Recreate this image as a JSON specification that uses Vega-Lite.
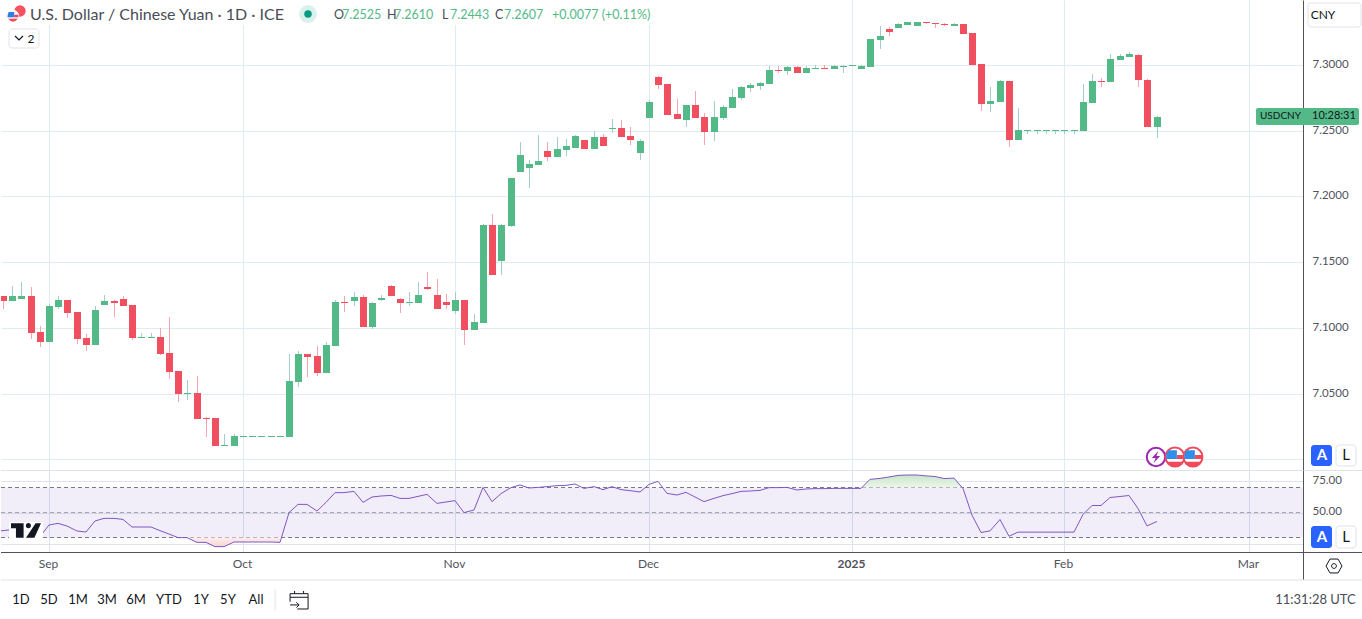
{"$schema":"https://vega.github.io/schema/vega-lite/v6.json","padding":0,"background":"#ffffff","spacing":0,"bounds":"flush","config":{"view":{"stroke":null},"font":"Lato","concat":{"spacing":0}},
"datasets":{
"candles":[
{"bar":-5,"o":7.1243,"h":7.1243,"l":7.1144,"c":7.1205},{"bar":-4,"o":7.1205,"h":7.1319,"l":7.1205,"c":7.1243},{"bar":-3,"o":7.122,"h":7.1349,"l":7.122,"c":7.1243},{"bar":-2,"o":7.1243,"h":7.1311,"l":7.0916,"c":7.0961},{"bar":-1,"o":7.0969,"h":7.1014,"l":7.0855,"c":7.0893},{"bar":0,"o":7.0893,"h":7.1182,"l":7.0893,"c":7.1167},{"bar":1,"o":7.1159,"h":7.1243,"l":7.1144,"c":7.1212},{"bar":2,"o":7.1212,"h":7.1212,"l":7.1075,"c":7.1113},{"bar":3,"o":7.1121,"h":7.1121,"l":7.0877,"c":7.0916},{"bar":4,"o":7.0923,"h":7.0954,"l":7.0824,"c":7.087},{"bar":5,"o":7.087,"h":7.1167,"l":7.087,"c":7.1136},{"bar":6,"o":7.1174,"h":7.125,"l":7.1174,"c":7.1205},{"bar":7,"o":7.1205,"h":7.1212,"l":7.1083,"c":7.1189},{"bar":8,"o":7.122,"h":7.1243,"l":7.1167,"c":7.1167},{"bar":9,"o":7.1174,"h":7.1174,"l":7.0908,"c":7.0923},{"bar":10,"o":7.0923,"h":7.0961,"l":7.0923,"c":7.0931},{"bar":11,"o":7.0923,"h":7.0961,"l":7.0923,"c":7.0931},{"bar":12,"o":7.0931,"h":7.0999,"l":7.0794,"c":7.0801},{"bar":13,"o":7.0809,"h":7.1083,"l":7.0611,"c":7.0664},{"bar":14,"o":7.0672,"h":7.0672,"l":7.0436,"c":7.0497},{"bar":15,"o":7.0497,"h":7.0604,"l":7.0451,"c":7.0505},{"bar":16,"o":7.0505,"h":7.0634,"l":7.0307,"c":7.0307},{"bar":17,"o":7.0314,"h":7.0322,"l":7.017,"c":7.0307},{"bar":18,"o":7.0314,"h":7.0314,"l":7.0101,"c":7.0101},{"bar":19,"o":7.0101,"h":7.0193,"l":7.0101,"c":7.0109},{"bar":20,"o":7.0101,"h":7.0193,"l":7.0101,"c":7.0177},{"bar":21,"o":7.017,"h":7.0177,"l":7.017,"c":7.0177},{"bar":22,"o":7.017,"h":7.0177,"l":7.017,"c":7.0177},{"bar":23,"o":7.017,"h":7.0177,"l":7.017,"c":7.0177},{"bar":24,"o":7.017,"h":7.0177,"l":7.017,"c":7.0177},{"bar":25,"o":7.017,"h":7.0177,"l":7.017,"c":7.0177},{"bar":26,"o":7.017,"h":7.0801,"l":7.017,"c":7.0596},{"bar":27,"o":7.0588,"h":7.0824,"l":7.055,"c":7.0801},{"bar":28,"o":7.0801,"h":7.0801,"l":7.0626,"c":7.0779},{"bar":29,"o":7.0786,"h":7.0862,"l":7.0634,"c":7.0657},{"bar":30,"o":7.0657,"h":7.0893,"l":7.0657,"c":7.087},{"bar":31,"o":7.0862,"h":7.1212,"l":7.0862,"c":7.1197},{"bar":32,"o":7.1197,"h":7.1243,"l":7.1121,"c":7.1189},{"bar":33,"o":7.1205,"h":7.1273,"l":7.1167,"c":7.1235},{"bar":34,"o":7.1235,"h":7.125,"l":7.1007,"c":7.1007},{"bar":35,"o":7.1007,"h":7.1197,"l":7.0992,"c":7.1189},{"bar":36,"o":7.1212,"h":7.125,"l":7.1205,"c":7.1228},{"bar":37,"o":7.1319,"h":7.1326,"l":7.1243,"c":7.1243},{"bar":38,"o":7.122,"h":7.1228,"l":7.1113,"c":7.1189},{"bar":39,"o":7.1189,"h":7.1273,"l":7.1167,"c":7.1197},{"bar":40,"o":7.1189,"h":7.1349,"l":7.1189,"c":7.125},{"bar":41,"o":7.1311,"h":7.1425,"l":7.1288,"c":7.1296},{"bar":42,"o":7.125,"h":7.1372,"l":7.1144,"c":7.1144},{"bar":43,"o":7.1197,"h":7.1258,"l":7.1144,"c":7.1174},{"bar":44,"o":7.1129,"h":7.1273,"l":7.1106,"c":7.1212},{"bar":45,"o":7.1212,"h":7.1212,"l":7.087,"c":7.0984},{"bar":46,"o":7.0984,"h":7.1106,"l":7.0984,"c":7.1045},{"bar":47,"o":7.1037,"h":7.1791,"l":7.1037,"c":7.1783},{"bar":48,"o":7.1783,"h":7.1867,"l":7.1403,"c":7.1403},{"bar":49,"o":7.1509,"h":7.1791,"l":7.1403,"c":7.1783},{"bar":50,"o":7.1775,"h":7.2141,"l":7.1768,"c":7.2141},{"bar":51,"o":7.2186,"h":7.2415,"l":7.2186,"c":7.2316},{"bar":52,"o":7.2217,"h":7.2278,"l":7.2064,"c":7.2247},{"bar":53,"o":7.224,"h":7.2468,"l":7.224,"c":7.227},{"bar":54,"o":7.2346,"h":7.2415,"l":7.227,"c":7.23},{"bar":55,"o":7.23,"h":7.2453,"l":7.23,"c":7.2361},{"bar":56,"o":7.2354,"h":7.2437,"l":7.2308,"c":7.2384},{"bar":57,"o":7.2369,"h":7.2468,"l":7.2369,"c":7.246},{"bar":58,"o":7.243,"h":7.243,"l":7.2361,"c":7.2361},{"bar":59,"o":7.2361,"h":7.2498,"l":7.2361,"c":7.2453},{"bar":60,"o":7.2453,"h":7.2475,"l":7.2384,"c":7.2384},{"bar":61,"o":7.2513,"h":7.259,"l":7.2483,"c":7.2521},{"bar":62,"o":7.2521,"h":7.2582,"l":7.2453,"c":7.2453},{"bar":63,"o":7.246,"h":7.2529,"l":7.2392,"c":7.243},{"bar":64,"o":7.2331,"h":7.2437,"l":7.2278,"c":7.2422},{"bar":65,"o":7.2597,"h":7.2734,"l":7.2597,"c":7.2719},{"bar":66,"o":7.2909,"h":7.2917,"l":7.2818,"c":7.2848},{"bar":67,"o":7.2856,"h":7.2856,"l":7.262,"c":7.262},{"bar":68,"o":7.2628,"h":7.2742,"l":7.259,"c":7.259},{"bar":69,"o":7.2582,"h":7.2696,"l":7.2529,"c":7.2696},{"bar":70,"o":7.2696,"h":7.2803,"l":7.2597,"c":7.2597},{"bar":71,"o":7.2605,"h":7.2635,"l":7.2392,"c":7.2491},{"bar":72,"o":7.2491,"h":7.2726,"l":7.2422,"c":7.2605},{"bar":73,"o":7.2597,"h":7.2696,"l":7.2582,"c":7.2681},{"bar":74,"o":7.2673,"h":7.2818,"l":7.2673,"c":7.2757},{"bar":75,"o":7.2749,"h":7.2841,"l":7.2734,"c":7.2833},{"bar":76,"o":7.2825,"h":7.2863,"l":7.2795,"c":7.2848},{"bar":77,"o":7.2841,"h":7.2871,"l":7.281,"c":7.2863},{"bar":78,"o":7.2856,"h":7.2993,"l":7.2856,"c":7.2962},{"bar":79,"o":7.2962,"h":7.2993,"l":7.294,"c":7.2955},{"bar":80,"o":7.2955,"h":7.2993,"l":7.2924,"c":7.2985},{"bar":81,"o":7.2985,"h":7.2993,"l":7.294,"c":7.294},{"bar":82,"o":7.294,"h":7.2993,"l":7.294,"c":7.2978},{"bar":83,"o":7.297,"h":7.3,"l":7.297,"c":7.2978},{"bar":84,"o":7.2978,"h":7.3,"l":7.297,"c":7.297},{"bar":85,"o":7.297,"h":7.3,"l":7.297,"c":7.2993},{"bar":86,"o":7.2985,"h":7.3,"l":7.294,"c":7.2993},{"bar":87,"o":7.2993,"h":7.3,"l":7.2993,"c":7.3},{"bar":88,"o":7.297,"h":7.3,"l":7.297,"c":7.2993},{"bar":89,"o":7.2985,"h":7.3198,"l":7.2985,"c":7.3198},{"bar":90,"o":7.3191,"h":7.3297,"l":7.3122,"c":7.3221},{"bar":91,"o":7.3274,"h":7.329,"l":7.3221,"c":7.3252},{"bar":92,"o":7.3282,"h":7.332,"l":7.3282,"c":7.3312},{"bar":93,"o":7.3305,"h":7.3328,"l":7.3305,"c":7.3328},{"bar":94,"o":7.3297,"h":7.3328,"l":7.3297,"c":7.3328},{"bar":95,"o":7.3328,"h":7.3328,"l":7.3312,"c":7.332},{"bar":96,"o":7.332,"h":7.332,"l":7.3282,"c":7.3312},{"bar":97,"o":7.3312,"h":7.332,"l":7.3297,"c":7.3305},{"bar":98,"o":7.3297,"h":7.332,"l":7.3297,"c":7.3312},{"bar":99,"o":7.3312,"h":7.3312,"l":7.3236,"c":7.3236},{"bar":100,"o":7.3244,"h":7.3244,"l":7.3,"c":7.3},{"bar":101,"o":7.3008,"h":7.3008,"l":7.265,"c":7.2704},{"bar":102,"o":7.2704,"h":7.2833,"l":7.2643,"c":7.2726},{"bar":103,"o":7.2719,"h":7.2886,"l":7.2719,"c":7.2879},{"bar":104,"o":7.2879,"h":7.2879,"l":7.2376,"c":7.243},{"bar":105,"o":7.243,"h":7.2673,"l":7.243,"c":7.2506},{"bar":106,"o":7.2498,"h":7.2506,"l":7.2475,"c":7.2506},{"bar":107,"o":7.2498,"h":7.2506,"l":7.2475,"c":7.2506},{"bar":108,"o":7.2498,"h":7.2506,"l":7.2475,"c":7.2506},{"bar":109,"o":7.2498,"h":7.2506,"l":7.2475,"c":7.2506},{"bar":110,"o":7.2498,"h":7.2506,"l":7.2475,"c":7.2506},{"bar":111,"o":7.2498,"h":7.2506,"l":7.2475,"c":7.2506},{"bar":112,"o":7.2498,"h":7.2856,"l":7.2498,"c":7.2719},{"bar":113,"o":7.2711,"h":7.2932,"l":7.2711,"c":7.2879},{"bar":114,"o":7.2879,"h":7.2902,"l":7.2833,"c":7.2871},{"bar":115,"o":7.2871,"h":7.3084,"l":7.2871,"c":7.3046},{"bar":116,"o":7.3039,"h":7.3084,"l":7.3039,"c":7.3069},{"bar":117,"o":7.3061,"h":7.3099,"l":7.3061,"c":7.3084},{"bar":118,"o":7.3077,"h":7.3084,"l":7.2833,"c":7.2886},{"bar":119,"o":7.2886,"h":7.2894,"l":7.2529,"c":7.2529},{"bar":120,"o":7.2525,"h":7.261,"l":7.2443,"c":7.2607}],
"rsi":[
{"bar":-6,"rsi":35.0},{"bar":-5,"rsi":35.5},{"bar":-4,"rsi":36.3},{"bar":-3,"rsi":36.8},{"bar":-2,"rsi":31.5},{"bar":-1,"rsi":30.7},{"bar":0,"rsi":40},{"bar":1,"rsi":41.3},{"bar":2,"rsi":39.2},{"bar":3,"rsi":35.2},{"bar":4,"rsi":34.4},{"bar":5,"rsi":43.2},{"bar":6,"rsi":45.3},{"bar":7,"rsi":45.3},{"bar":8,"rsi":44.5},{"bar":9,"rsi":38.4},{"bar":10,"rsi":38.4},{"bar":11,"rsi":38.4},{"bar":12,"rsi":35.5},{"bar":13,"rsi":32.8},{"bar":14,"rsi":29.9},{"bar":15,"rsi":29.9},{"bar":16,"rsi":26.1},{"bar":17,"rsi":26.1},{"bar":18,"rsi":22.7},{"bar":19,"rsi":22.7},{"bar":20,"rsi":26.4},{"bar":21,"rsi":26.4},{"bar":22,"rsi":26.4},{"bar":23,"rsi":26.4},{"bar":24,"rsi":26.4},{"bar":25,"rsi":26.1},{"bar":26,"rsi":49.9},{"bar":27,"rsi":56.5},{"bar":28,"rsi":56.5},{"bar":29,"rsi":51.2},{"bar":30,"rsi":58.1},{"bar":31,"rsi":65.9},{"bar":32,"rsi":65.9},{"bar":33,"rsi":66.9},{"bar":34,"rsi":58.1},{"bar":35,"rsi":62.4},{"bar":36,"rsi":63.2},{"bar":37,"rsi":63.7},{"bar":38,"rsi":61.3},{"bar":39,"rsi":61.3},{"bar":40,"rsi":62.9},{"bar":41,"rsi":64.5},{"bar":42,"rsi":57.3},{"bar":43,"rsi":58.4},{"bar":44,"rsi":59.5},{"bar":45,"rsi":49.9},{"bar":46,"rsi":52},{"bar":47,"rsi":70.1},{"bar":48,"rsi":58.7},{"bar":49,"rsi":65.1},{"bar":50,"rsi":69.9},{"bar":51,"rsi":72},{"bar":52,"rsi":69.6},{"bar":53,"rsi":70.1},{"bar":54,"rsi":70.7},{"bar":55,"rsi":71.5},{"bar":56,"rsi":71.7},{"bar":57,"rsi":72.8},{"bar":58,"rsi":69.3},{"bar":59,"rsi":70.7},{"bar":60,"rsi":68.3},{"bar":61,"rsi":70.7},{"bar":62,"rsi":68.3},{"bar":63,"rsi":67.5},{"bar":64,"rsi":66.4},{"bar":65,"rsi":72.5},{"bar":66,"rsi":74.9},{"bar":67,"rsi":65.3},{"bar":68,"rsi":64},{"bar":69,"rsi":66.1},{"bar":70,"rsi":62.4},{"bar":71,"rsi":58.7},{"bar":72,"rsi":61.3},{"bar":73,"rsi":63.5},{"bar":74,"rsi":65.1},{"bar":75,"rsi":66.9},{"bar":76,"rsi":67.2},{"bar":77,"rsi":67.7},{"bar":78,"rsi":69.9},{"bar":79,"rsi":69.9},{"bar":80,"rsi":70.1},{"bar":81,"rsi":68},{"bar":82,"rsi":68.8},{"bar":83,"rsi":69.1},{"bar":84,"rsi":69.1},{"bar":85,"rsi":69.3},{"bar":86,"rsi":69.3},{"bar":87,"rsi":69.3},{"bar":88,"rsi":69.3},{"bar":89,"rsi":76.5},{"bar":90,"rsi":77.3},{"bar":91,"rsi":78.4},{"bar":92,"rsi":79.7},{"bar":93,"rsi":80},{"bar":94,"rsi":80},{"bar":95,"rsi":79.3},{"bar":96,"rsi":78.8},{"bar":97,"rsi":77.2},{"bar":98,"rsi":77.5},{"bar":99,"rsi":69.2},{"bar":100,"rsi":47.9},{"bar":101,"rsi":34},{"bar":102,"rsi":35.3},{"bar":103,"rsi":44.4},{"bar":104,"rsi":31},{"bar":105,"rsi":34.3},{"bar":106,"rsi":34.3},{"bar":107,"rsi":34.3},{"bar":108,"rsi":34.3},{"bar":109,"rsi":34.3},{"bar":110,"rsi":34.3},{"bar":111,"rsi":34.3},{"bar":112,"rsi":48.4},{"bar":113,"rsi":55.6},{"bar":114,"rsi":55.6},{"bar":115,"rsi":62},{"bar":116,"rsi":62.8},{"bar":117,"rsi":63.6},{"bar":118,"rsi":53.2},{"bar":119,"rsi":39.3},{"bar":120,"rsi":42.8}]
},
"vconcat":[
{"width":1302,"height":470,
"encoding":{"x":{"field":"bar","type":"quantitative","title":null,"scale":{"domain":[-5.2,135.86],"zero":false,"round":true,"padding":0},"axis":{"values":[0,21,44,65,87,110,130],"labels":false,"ticks":false,"domain":false,"grid":true,"gridColor":"#e1ecf2","title":null}}},
"layer":[
{"data":{"values":[{"bar":-5.2,"bar2":65.4,"price":7.3305,"price2":7.3495}]},"mark":{"type":"rect","fill":"#ffffff"},"encoding":{"x2":{"field":"bar2"},"y":{"field":"price","type":"quantitative","title":null,"scale":{"domain":[6.9919,7.3495],"zero":false,"round":true},"axis":{"orient":"right","values":[7.0,7.05,7.1,7.15,7.2,7.25,7.3],"labelExpr":"datum.value < 7.01 ? '' : format(datum.value,'.4f')","grid":true,"gridColor":"#e1ecf2","ticks":false,"domain":true,"domainColor":"#50535e","labelColor":"#50535e","labelFontSize":11.5,"labelPadding":9,"labelOffset":-1,"labelFont":"Lato","title":null}},"y2":{"field":"price2"}}},
{"data":{"name":"candles"},"mark":{"type":"rule","strokeWidth":1,"xOffset":0.5,"clip":true},"encoding":{"y":{"field":"l","type":"quantitative","title":null,"scale":{"domain":[6.9919,7.3495],"zero":false,"round":true}},"y2":{"field":"h"},"color":{"condition":{"test":"datum.c >= datum.o","value":"#a4cdd0"},"value":"#f6a5b0"}}},
{"data":{"name":"candles"},"mark":{"type":"bar","size":7,"xOffset":0.5,"clip":true},"encoding":{"y":{"field":"o","type":"quantitative","title":null,"scale":{"domain":[6.9919,7.3495],"zero":false,"round":true}},"y2":{"field":"c"},"color":{"condition":{"test":"datum.c >= datum.o","value":"#53b987"},"value":"#ef4f5f"}}},
{"data":{"values":[{"bar":-5.2,"bar2":142.38,"price":6.9919}]},"mark":{"type":"rule","stroke":"#e0e3eb","strokeWidth":1,"yOffset":0.5},"encoding":{"x2":{"field":"bar2"},"y":{"field":"price","type":"quantitative","title":null,"scale":{"domain":[6.9919,7.3495],"zero":false,"round":true}}}},
{"data":{"values":[{"bar":-4.33,"bar2":-1.08,"price":7.313,"price2":7.3274},{"bar":136.4,"bar2":142.1,"price":7.329,"price2":7.3472},{"bar":139.4,"bar2":141.6,"price":6.9949,"price2":7.0109}]},"mark":{"type":"rect","fill":"#ffffff","stroke":"#e0e3eb","cornerRadius":3,"clip":false},"encoding":{"x2":{"field":"bar2"},"y":{"field":"price","type":"quantitative","title":null,"scale":{"domain":[6.9919,7.3495],"zero":false,"round":true}},"y2":{"field":"price2"}}},
{"data":{"values":[{"bar":136.7,"bar2":139.0,"price":6.9949,"price2":7.0109}]},"mark":{"type":"rect","fill":"#2962ff","cornerRadius":3},"encoding":{"x2":{"field":"bar2"},"y":{"field":"price","type":"quantitative","title":null,"scale":{"domain":[6.9919,7.3495],"zero":false,"round":true}},"y2":{"field":"price2"}}},
{"data":{"values":[{"bar":130.8,"bar2":141.9,"price":7.2544,"price2":7.2673}]},"mark":{"type":"rect","fill":"#53b987","cornerRadius":2},"encoding":{"x2":{"field":"bar2"},"y":{"field":"price","type":"quantitative","title":null,"scale":{"domain":[6.9919,7.3495],"zero":false,"round":true}},"y2":{"field":"price2"}}},
{"data":{"values":[{"bar":-2.06,"price":7.3381,"label":"U.S. Dollar / Chinese Yuan · 1D · ICE"}]},"mark":{"type":"text","align":"left","baseline":"middle","fontSize":16,"fill":"#4a4d57"},"encoding":{"y":{"field":"price","type":"quantitative","title":null,"scale":{"domain":[6.9919,7.3495],"zero":false,"round":true}},"text":{"field":"label"}}},
{"data":{"values":[{"bar":30.88,"price":7.3381,"label":"O"},{"bar":36.62,"price":7.3381,"label":"H"},{"bar":42.6,"price":7.3381,"label":"L"},{"bar":48.3,"price":7.3381,"label":"C"}]},"mark":{"type":"text","align":"left","baseline":"middle","fontSize":12.5,"fill":"#4a4d57"},"encoding":{"y":{"field":"price","type":"quantitative","title":null,"scale":{"domain":[6.9919,7.3495],"zero":false,"round":true}},"text":{"field":"label"}}},
{"data":{"values":[{"bar":31.74,"price":7.3381,"label":"7.2525"},{"bar":37.38,"price":7.3381,"label":"7.2610"},{"bar":43.45,"price":7.3381,"label":"7.2443"},{"bar":49.3,"price":7.3381,"label":"7.2607"},{"bar":54.5,"price":7.3381,"label":"+0.0077 (+0.11%)"}]},"mark":{"type":"text","align":"left","baseline":"middle","fontSize":12.5,"fill":"#53b987"},"encoding":{"y":{"field":"price","type":"quantitative","title":null,"scale":{"domain":[6.9919,7.3495],"zero":false,"round":true}},"text":{"field":"label"}}},
{"data":{"values":[{"bar":-1.95,"price":7.3202,"label":"2"},{"bar":138.0,"price":7.3381,"label":"CNY"}]},"mark":{"type":"text","align":"center","baseline":"middle","fontSize":12,"fill":"#131722"},"encoding":{"y":{"field":"price","type":"quantitative","title":null,"scale":{"domain":[6.9919,7.3495],"zero":false,"round":true}},"text":{"field":"label"}}},
{"data":{"values":[{"bar":140.5,"price":7.0033,"label":"L"}]},"mark":{"type":"text","align":"center","baseline":"middle","fontSize":15,"fill":"#131722"},"encoding":{"y":{"field":"price","type":"quantitative","title":null,"scale":{"domain":[6.9919,7.3495],"zero":false,"round":true}},"text":{"field":"label"}}},
{"data":{"values":[{"bar":137.9,"price":7.0033,"label":"A"}]},"mark":{"type":"text","align":"center","baseline":"middle","fontSize":15,"fontWeight":"bold","fill":"#ffffff"},"encoding":{"y":{"field":"price","type":"quantitative","title":null,"scale":{"domain":[6.9919,7.3495],"zero":false,"round":true}},"text":{"field":"label"}}},
{"data":{"values":[{"bar":131.2,"price":7.2609,"label":"USDCNY"}]},"mark":{"type":"text","align":"left","baseline":"middle","fontSize":10,"fill":"#131722"},"encoding":{"y":{"field":"price","type":"quantitative","title":null,"scale":{"domain":[6.9919,7.3495],"zero":false,"round":true}},"text":{"field":"label"}}},
{"data":{"values":[{"bar":136.85,"price":7.2609,"label":"10:28:31"}]},"mark":{"type":"text","align":"left","baseline":"middle","fontSize":11,"fill":"#131722"},"encoding":{"y":{"field":"price","type":"quantitative","title":null,"scale":{"domain":[6.9919,7.3495],"zero":false,"round":true}},"text":{"field":"label"}}},
{"data":{"values":[{"bar":-3.09,"price":7.3415}]},"mark":{"type":"point","shape":"circle","filled":true,"fill":"#f7525f","size":130,"opacity":1},"encoding":{"y":{"field":"price","type":"quantitative","title":null,"scale":{"domain":[6.9919,7.3495],"zero":false,"round":true}}}},
{"data":{"values":[{"bar":-3.85,"price":7.3377}]},"mark":{"type":"point","shape":"circle","filled":true,"fill":"#f1f1f5","stroke":"#ffffff","strokeWidth":1,"size":130,"opacity":1},"encoding":{"y":{"field":"price","type":"quantitative","title":null,"scale":{"domain":[6.9919,7.3495],"zero":false,"round":true}}}},
{"data":{"values":[{"bar":-3.85,"price":7.3377}]},"mark":{"type":"point","shape":"M0.2 -0.2 H0.95 V0.2 H0.2 Z M-0.85 0.5 H0.85 Q0.45 1 0 1 Q-0.45 1 -0.85 0.5 Z","filled":true,"fill":"#f2495c","size":130,"opacity":1},"encoding":{"y":{"field":"price","type":"quantitative","title":null,"scale":{"domain":[6.9919,7.3495],"zero":false,"round":true}}}},
{"data":{"values":[{"bar":-3.85,"price":7.3377}]},"mark":{"type":"point","shape":"M-0.75 -0.7 H0.2 V0.2 H-0.98 Q-0.98 -0.35 -0.75 -0.7 Z","filled":true,"fill":"#2f7fe0","size":130,"opacity":1},"encoding":{"y":{"field":"price","type":"quantitative","title":null,"scale":{"domain":[6.9919,7.3495],"zero":false,"round":true}}}},
{"data":{"values":[{"bar":28.06,"price":7.3388}]},"mark":{"type":"point","shape":"circle","filled":true,"fill":"#d9f0ec","size":320,"opacity":1},"encoding":{"y":{"field":"price","type":"quantitative","title":null,"scale":{"domain":[6.9919,7.3495],"zero":false,"round":true}}}},
{"data":{"values":[{"bar":28.06,"price":7.3388}]},"mark":{"type":"point","shape":"circle","filled":true,"fill":"#089981","size":56,"opacity":1},"encoding":{"y":{"field":"price","type":"quantitative","title":null,"scale":{"domain":[6.9919,7.3495],"zero":false,"round":true}}}},
{"data":{"values":[{"bar":-3.25,"price":7.3206}]},"mark":{"type":"point","shape":"M-1 -0.5 L0 0.5 L1 -0.5","filled":false,"stroke":"#131722","strokeWidth":1.2,"size":64,"opacity":1},"encoding":{"y":{"field":"price","type":"quantitative","title":null,"scale":{"domain":[6.9919,7.3495],"zero":false,"round":true}}}},
{"data":{"values":[{"bar":119.94,"price":7.0018}]},"mark":{"type":"point","shape":"circle","filled":true,"fill":"#ffffff","stroke":"#9c27b0","strokeWidth":2,"size":340,"opacity":1},"encoding":{"y":{"field":"price","type":"quantitative","title":null,"scale":{"domain":[6.9919,7.3495],"zero":false,"round":true}}}},
{"data":{"values":[{"bar":119.94,"price":7.0018}]},"mark":{"type":"point","shape":"M0.25 -0.65 L-0.45 0.1 H-0.05 L-0.25 0.65 L0.45 -0.1 H0.05 Z","filled":true,"fill":"#9c27b0","size":340,"opacity":1},"encoding":{"y":{"field":"price","type":"quantitative","title":null,"scale":{"domain":[6.9919,7.3495],"zero":false,"round":true}}}},
{"data":{"values":[{"bar":122.0,"price":7.0018},{"bar":123.95,"price":7.0018}]},"mark":{"type":"point","shape":"circle","filled":true,"fill":"#ffffff","stroke":"#f2495c","strokeWidth":2,"size":360,"opacity":1},"encoding":{"y":{"field":"price","type":"quantitative","title":null,"scale":{"domain":[6.9919,7.3495],"zero":false,"round":true}}}},
{"data":{"values":[{"bar":122.0,"price":7.0018},{"bar":123.95,"price":7.0018}]},"mark":{"type":"point","shape":"M0.2 -0.2 H0.95 V0.2 H0.2 Z M-0.85 0.5 H0.85 Q0.45 0.98 0 0.98 Q-0.45 0.98 -0.85 0.5 Z","filled":true,"fill":"#f2495c","size":360,"opacity":1},"encoding":{"y":{"field":"price","type":"quantitative","title":null,"scale":{"domain":[6.9919,7.3495],"zero":false,"round":true}}}},
{"data":{"values":[{"bar":122.0,"price":7.0018},{"bar":123.95,"price":7.0018}]},"mark":{"type":"point","shape":"M-0.7 -0.7 H0.2 V0.2 H-0.95 Q-0.95 -0.35 -0.7 -0.7 Z","filled":true,"fill":"#2f8fe8","size":360,"opacity":1},"encoding":{"y":{"field":"price","type":"quantitative","title":null,"scale":{"domain":[6.9919,7.3495],"zero":false,"round":true}}}}
]},
{"width":1302,"height":82,
"encoding":{"x":{"field":"bar","type":"quantitative","title":null,"scale":{"domain":[-5.2,135.86],"zero":false,"round":true,"padding":0},"axis":{"values":[0,21,44,65,87,110,130],"labelExpr":"datum.value==0?'Sep':datum.value==21?'Oct':datum.value==44?'Nov':datum.value==65?'Dec':datum.value==87?'2025':datum.value==110?'Feb':'Mar'","labelFontSize":12,"labelColor":"#50535e","labelFontWeight":{"condition":{"test":"datum.value==87","value":"bold"},"value":"normal"},"labelPadding":6,"labelOffset":-1,"labelFlush":false,"ticks":false,"domain":false,"grid":true,"gridColor":"#d9e4ef","title":null}}},
"layer":[
{"data":{"values":[{"bar":-5.2,"bar2":135.86,"low":30,"high":70}]},"mark":{"type":"rect","fill":"#7e57c2","opacity":0.1},"encoding":{"x2":{"field":"bar2"},"y":{"field":"low","type":"quantitative","title":null,"scale":{"domain":[18.4,84],"zero":false},"axis":{"orient":"right","values":[25,50,75],"labelExpr":"datum.value < 30 ? '' : format(datum.value,'.2f')","grid":true,"gridColor":"#e0e3eb","ticks":false,"domain":true,"domainColor":"#50535e","labelColor":"#50535e","labelFontSize":11.5,"labelPadding":9,"labelOffset":-1,"title":null}},"y2":{"field":"high"}}},
{"data":{"values":[{"bar":-5.2,"bar2":135.86,"level":70},{"bar":-5.2,"bar2":135.86,"level":30}]},"mark":{"type":"rule","stroke":"#787b86","strokeDash":[4,3],"strokeWidth":1},"encoding":{"x2":{"field":"bar2"},"y":{"field":"level","type":"quantitative","title":null,"scale":{"domain":[18.4,84],"zero":false}}}},
{"data":{"values":[{"bar":-5.2,"bar2":135.86,"level":50}]},"mark":{"type":"rule","stroke":"#a5a7b0","strokeDash":[4,3],"strokeWidth":1},"encoding":{"x2":{"field":"bar2"},"y":{"field":"level","type":"quantitative","title":null,"scale":{"domain":[18.4,84],"zero":false}}}},
{"data":{"name":"rsi"},"transform":[{"filter":"datum.bar >= 88 && datum.bar <= 99"}],"mark":{"type":"area","clip":true,"color":{"x1":0,"y1":0,"x2":0,"y2":1,"gradient":"linear","stops":[{"offset":0,"color":"#c8e6c9"},{"offset":1,"color":"#eef7ee"}]}},"encoding":{"y":{"field":"rsi","type":"quantitative","title":null,"scale":{"domain":[18.4,84],"zero":false}},"y2":{"datum":70}}},
{"data":{"name":"rsi"},"transform":[{"filter":"datum.bar >= 15 && datum.bar <= 25"}],"mark":{"type":"area","clip":true,"color":{"x1":0,"y1":0,"x2":0,"y2":1,"gradient":"linear","stops":[{"offset":0,"color":"#fdeeee"},{"offset":1,"color":"#f9d4d4"}]}},"encoding":{"y":{"field":"rsi","type":"quantitative","title":null,"scale":{"domain":[18.4,84],"zero":false}},"y2":{"datum":30}}},
{"data":{"name":"rsi"},"mark":{"type":"line","stroke":"#7e57c2","strokeWidth":1,"clip":true,"interpolate":"linear"},"encoding":{"y":{"field":"rsi","type":"quantitative","title":null,"scale":{"domain":[18.4,84],"zero":false}}}},
{"data":{"values":[{"bar":-4.33,"bar2":-0.65,"low":28.8,"high":42.4}]},"mark":{"type":"rect","fill":"#ffffff"},"encoding":{"x2":{"field":"bar2"},"y":{"field":"low","type":"quantitative","title":null,"scale":{"domain":[18.4,84],"zero":false}},"y2":{"field":"high"}}},
{"data":{"values":[{"bar":-2.49,"level":35.76}]},"mark":{"type":"point","shape":"M-1 -0.47 H-0.16 V0.49 H-0.67 V-0.13 H-1 Z M0.33 -0.31 A0.17 0.17 0 1 1 -0.01 -0.31 A0.17 0.17 0 1 1 0.33 -0.31 Z M0.64 -0.47 H1 L0.56 0.49 H0 Z","filled":true,"fill":"#131722","size":900,"opacity":1},"encoding":{"y":{"field":"level","type":"quantitative","title":null,"scale":{"domain":[18.4,84],"zero":false}}}},
{"data":{"values":[{"bar":-5.2,"bar2":142.38,"level":18.4}]},"mark":{"type":"rule","stroke":"#50535e","strokeWidth":1,"yOffset":0.5},"encoding":{"x2":{"field":"bar2"},"y":{"field":"level","type":"quantitative","title":null,"scale":{"domain":[18.4,84],"zero":false}}}},
{"data":{"values":[{"bar":135.86,"low":18.4,"high":-4}]},"mark":{"type":"rule","stroke":"#50535e","strokeWidth":1,"xOffset":0.5},"encoding":{"y":{"field":"low","type":"quantitative","title":null,"scale":{"domain":[18.4,84],"zero":false}},"y2":{"field":"high"}}},
{"data":{"values":[{"bar":139.4,"bar2":141.6,"low":21.6,"high":39.2}]},"mark":{"type":"rect","fill":"#ffffff","stroke":"#e0e3eb","cornerRadius":3},"encoding":{"x2":{"field":"bar2"},"y":{"field":"low","type":"quantitative","title":null,"scale":{"domain":[18.4,84],"zero":false}},"y2":{"field":"high"}}},
{"data":{"values":[{"bar":136.7,"bar2":139.0,"low":21.6,"high":39.2}]},"mark":{"type":"rect","fill":"#2962ff","cornerRadius":3},"encoding":{"x2":{"field":"bar2"},"y":{"field":"low","type":"quantitative","title":null,"scale":{"domain":[18.4,84],"zero":false}},"y2":{"field":"high"}}},
{"data":{"values":[{"bar":137.9,"level":30.4,"label":"A"}]},"mark":{"type":"text","align":"center","baseline":"middle","fontSize":15,"fontWeight":"bold","fill":"#ffffff"},"encoding":{"y":{"field":"level","type":"quantitative","title":null,"scale":{"domain":[18.4,84],"zero":false}},"text":{"field":"label"}}},
{"data":{"values":[{"bar":140.5,"level":30.4,"label":"L"}]},"mark":{"type":"text","align":"center","baseline":"middle","fontSize":15,"fill":"#131722"},"encoding":{"y":{"field":"level","type":"quantitative","title":null,"scale":{"domain":[18.4,84],"zero":false}},"text":{"field":"label"}}},
{"data":{"values":[{"bar":139.2,"level":7.2}]},"mark":{"type":"point","shape":"M-1 0 L-0.5 -0.87 H0.5 L1 0 L0.5 0.87 H-0.5 Z M0.3 0 A0.3 0.3 0 1 1 -0.3 0 A0.3 0.3 0 1 1 0.3 0 Z","filled":false,"stroke":"#131722","strokeWidth":1,"size":256,"opacity":1},"encoding":{"y":{"field":"level","type":"quantitative","title":null,"scale":{"domain":[18.4,84],"zero":false}}}}
]},
{"width":1362,"height":67,
"encoding":{"x":{"field":"bar","type":"quantitative","title":null,"scale":{"domain":[-5.2,142.38],"zero":false},"axis":null},"y":{"field":"level","type":"quantitative","title":null,"scale":{"domain":[0,1],"zero":false},"axis":null}},
"layer":[
{"data":{"values":[{"bar":-5.2,"bar2":142.38,"level":0.582}]},"mark":{"type":"rule","stroke":"#e0e3eb","strokeWidth":1},"encoding":{"x2":{"field":"bar2"}}},
{"data":{"values":[{"bar":-3.03,"level":0.284,"label":"1D"},{"bar":0,"level":0.284,"label":"5D"},{"bar":3.14,"level":0.284,"label":"1M"},{"bar":6.28,"level":0.284,"label":"3M"},{"bar":9.43,"level":0.284,"label":"6M"},{"bar":13.0,"level":0.284,"label":"YTD"},{"bar":16.47,"level":0.284,"label":"1Y"},{"bar":19.39,"level":0.284,"label":"5Y"},{"bar":22.43,"level":0.284,"label":"All"}]},"mark":{"type":"text","align":"center","baseline":"middle","fontSize":13,"fill":"#131722"},"encoding":{"text":{"field":"label"}}},
{"data":{"values":[{"bar":141.6,"level":0.284,"label":"11:31:28 UTC"}]},"mark":{"type":"text","align":"right","baseline":"middle","fontSize":13,"fill":"#4a4d57"},"encoding":{"text":{"field":"label"}}},
{"data":{"values":[{"bar":24.5,"level":0.448,"to":0.119}]},"mark":{"type":"rule","stroke":"#e0e3eb","strokeWidth":1},"encoding":{"y2":{"field":"to"}}},
{"data":{"values":[{"bar":27.1,"level":0.284}]},"mark":{"type":"point","shape":"M-1 -0.7 H1 V1 H-0.2 M-1 0.2 V-0.7 M-1 -0.3 H1 M-0.5 -1 V-0.7 M0.5 -1 V-0.7 M-1 0.55 H0 M-0.3 0.25 L0 0.55 L-0.3 0.85","filled":false,"stroke":"#131722","strokeWidth":1,"size":324,"opacity":1}}
]}
]}
